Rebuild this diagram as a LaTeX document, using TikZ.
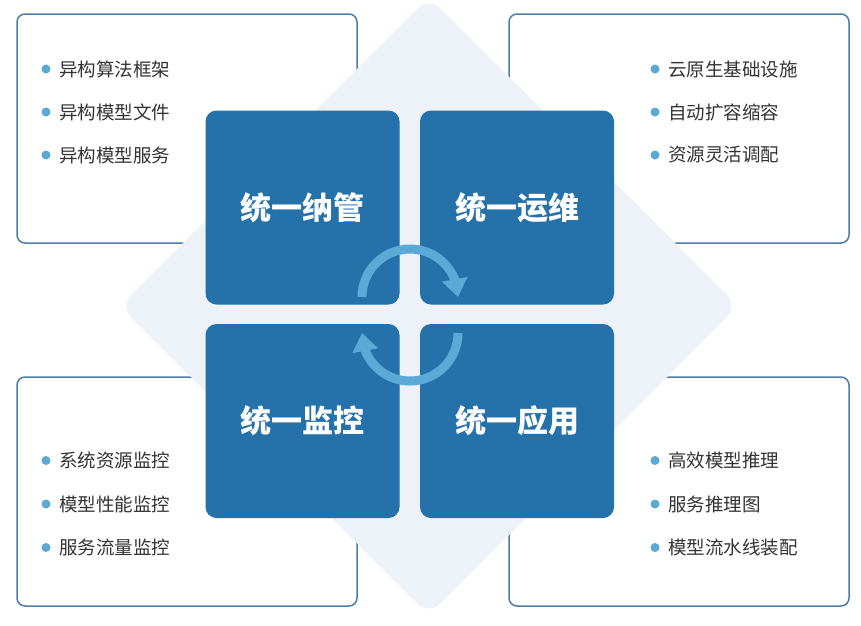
\documentclass[tikz,border=0pt]{standalone}
\usepackage{fontspec}
\newfontfamily\cjk{Noto Sans CJK SC}
\usetikzlibrary{arrows.meta,bending}
\definecolor{diam}{HTML}{EDF1F8}
\definecolor{sqblue}{HTML}{2571AA}
\definecolor{arrblue}{HTML}{5BA9D7}
\definecolor{boxline}{HTML}{4D7DA8}
\definecolor{txt}{HTML}{333333}
\definecolor{dotc}{HTML}{5AA9D2}
\tikzset{
  infobox/.style={draw=boxline, line width=1.5pt, fill=white, rounded corners=8pt,
    minimum width=340pt, minimum height=229pt, inner sep=0pt},
  sqbox/.style={fill=sqblue, rounded corners=11pt, minimum width=194pt, minimum height=194pt,
    inner sep=0pt, text=white, font=\cjk\bfseries\fontsize{31}{36}\selectfont},
  item/.style={anchor=west, inner sep=0pt, text=txt, font=\cjk\fontsize{18.5}{22}\selectfont},
  cyc/.style={draw=arrblue, line width=9pt, -{Triangle[width=25pt,length=18pt,flex]}},
}
\begin{document}
\begin{tikzpicture}[x=1pt,y=-1pt]
\useasboundingbox (0,0) rectangle (861,625);
% outer boxes
\node[infobox] (tlbox) at (187,128.5) {};
\node[infobox] (trbox) at (679,128.5) {};
\node[infobox] (blbox) at (187,491.5) {};
\node[infobox] (brbox) at (679,491.5) {};
% diamond
\fill[diam, rounded corners=16pt] (429,-3) -- (738,306) -- (429,615) -- (120,306) -- cycle;
% squares
\node[sqbox] (guan) at (302.5,207.5) {统一纳管};
\node[sqbox] (yunwei) at (517,207.5) {统一运维};
\node[sqbox] (jiankong) at (302.5,421) {统一监控};
\node[sqbox] (yingyong) at (517,421) {统一应用};
% cycle arrows
\draw[cyc] (362,297) arc[start angle=180, end angle=360, radius=48];
\draw[cyc] (458,333) arc[start angle=0, end angle=180, radius=48];
% lists
\foreach \t [count=\i] in {异构算法框架,异构模型文件,异构模型服务}{
  \fill[dotc] (46,26+43*\i) circle (4.5);
  \node[item] (tl\i) at (59,26+43*\i) {\t};}
\foreach \t [count=\i] in {云原生基础设施,自动扩容缩容,资源灵活调配}{
  \fill[dotc] (655,26+43*\i) circle (4.5);
  \node[item] (tr\i) at (668,26+43*\i) {\t};}
\foreach \t [count=\i] in {系统资源监控,模型性能监控,服务流量监控}{
  \fill[dotc] (46,417+43.5*\i) circle (4.5);
  \node[item] (bl\i) at (59,417+43.5*\i) {\t};}
\foreach \t [count=\i] in {高效模型推理,服务推理图,模型流水线装配}{
  \fill[dotc] (655,417+43.5*\i) circle (4.5);
  \node[item] (br\i) at (668,417+43.5*\i) {\t};}
\end{tikzpicture}
\end{document}
